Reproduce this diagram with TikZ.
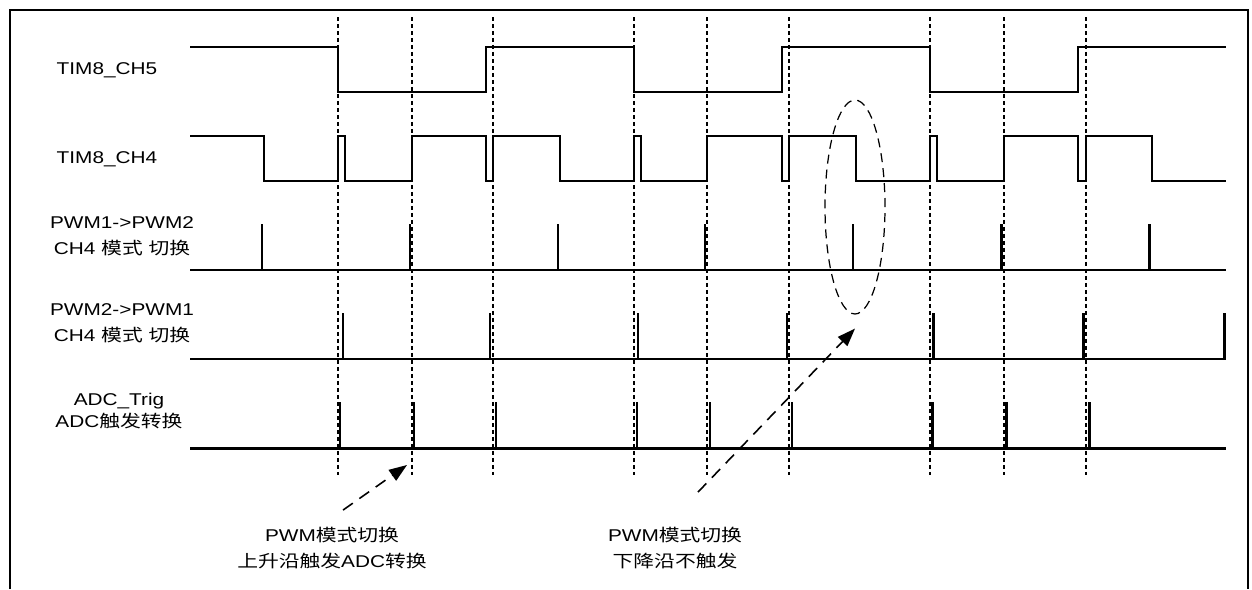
\documentclass[tikz,border=0pt]{standalone}
\usepackage{fontspec}
\setmainfont{Liberation Sans}[FakeStretch=1.22]
\newfontfamily\cjk{Noto Sans CJK SC}[FakeStretch=1.22]
\usepackage{tikz}
\usetikzlibrary{arrows.meta,positioning,shapes.geometric}

\begin{document}
\begin{tikzpicture}[
		x=0.02cm,y=-0.02cm,
		line join=miter,
		frame/.style={line width=1.6pt},
		wave/.style={line width=0.7pt},
		pulserow/.style={line width=1.7pt},
		guide/.style={line width=0.6pt, dash pattern=on 0.08cm off 0.06cm},
		siglabel/.style={font=\fontsize{9.7}{15}\selectfont, align=center, inner sep=0pt},
		note/.style={font=\fontsize{9.7}{15}\selectfont, align=center, inner sep=0pt},
		ring/.style={ellipse, draw, line width=0.7pt, dash pattern=on 0.18cm off 0.12cm, inner sep=0pt, minimum width=1.2cm, minimum height=4.28cm},
		callout/.style={-{Triangle[length=0.36cm,width=0.26cm]}, line width=0.9pt, dash pattern=on 0.24cm off 0.16cm}
	]
	\useasboundingbox (0,0) rectangle (1252,589);
	
	% Frame, open at the bottom
	\draw[frame] (10,589) -- (10,10) -- (1248,10) -- (1248,589);
	
	% Guide lines
	\foreach \gx in {338,412,493,634,707,789,930,1004,1086}
		\draw[guide] (\gx,17) -- (\gx,475);
	
	% Signal names
	\node[siglabel] (lblch5)  at (107,70)  {TIM8\_CH5};
	\node[siglabel] (lblch4)  at (107,159) {TIM8\_CH4};
	\node[siglabel] (lblp12)  at (122,236) {PWM1->PWM2\\CH4 {\cjk 模式} {\cjk 切换}};
	\node[siglabel] (lblp21)  at (122,323) {PWM2->PWM1\\CH4 {\cjk 模式} {\cjk 切换}};
	\node[siglabel] (lbladc)  at (119,411) {ADC\_Trig\\[-3pt]ADC{\cjk 触发转换}};
	
	% TIM8_CH5
	\draw[wave] (190,47) -- (338,47) -- (338,92) -- (486,92) -- (486,47) -- (634,47) -- (634,92)
		-- (782,92) -- (782,47) -- (930,47) -- (930,92) -- (1078,92) -- (1078,47) -- (1226,47);
	
	% TIM8_CH4
	\draw[wave] (190,136) -- (264,136) -- (264,181) -- (338,181) -- (338,136) -- (345,136) -- (345,181)
		-- (412,181) -- (412,136) -- (486,136) -- (486,181) -- (493,181) -- (493,136) -- (560,136)
		-- (560,181) -- (634,181) -- (634,136) -- (641,136) -- (641,181) -- (707,181) -- (707,136)
		-- (782,136) -- (782,181) -- (789,181) -- (789,136) -- (856,136) -- (856,181) -- (930,181)
		-- (930,136) -- (937,136) -- (937,181) -- (1004,181) -- (1004,136) -- (1078,136) -- (1078,181)
		-- (1086,181) -- (1086,136) -- (1152,136) -- (1152,181) -- (1226,181);
	
	% PWM1->PWM2 switch events
	\draw[pulserow] (190,270) -- (1226,270);
	\foreach \px in {262,410,558,705,853,1001,1149}
		\draw[pulserow] (\px,224) -- (\px,270);
	
	% PWM2->PWM1 switch events
	\draw[pulserow] (190,359) -- (1226,359);
	\foreach \px in {343,490,638,787,933,1083,1224}
		\draw[pulserow] (\px,313) -- (\px,359);
	
	% ADC triggers
	\draw[pulserow] (190,448) -- (1226,448);
	\foreach \px in {340,414,496,637,710,792,932,1006,1089}
		\draw[pulserow] (\px,402) -- (\px,448);
	
	% Missing trigger
	\node[ring] (missed) at (855,207) {};
	
	% Notes
	\node[note] (risenote) at (332,548) {PWM{\cjk 模式切换}\\{\cjk 上升沿触发}ADC{\cjk 转换}};
	\node[note] (fallnote) at (675,548) {PWM{\cjk 模式切换}\\{\cjk 下降沿不触发}};
	\coordinate (riseto) at (407,465);
	\draw[callout] ([xshift=0.22cm,yshift=0.33cm]risenote.north) -- (riseto);
	\draw[callout] ([xshift=0.46cm,yshift=0.69cm]fallnote.north) -- ([yshift=-0.28cm]missed.south);
	
\end{tikzpicture}
\end{document}
